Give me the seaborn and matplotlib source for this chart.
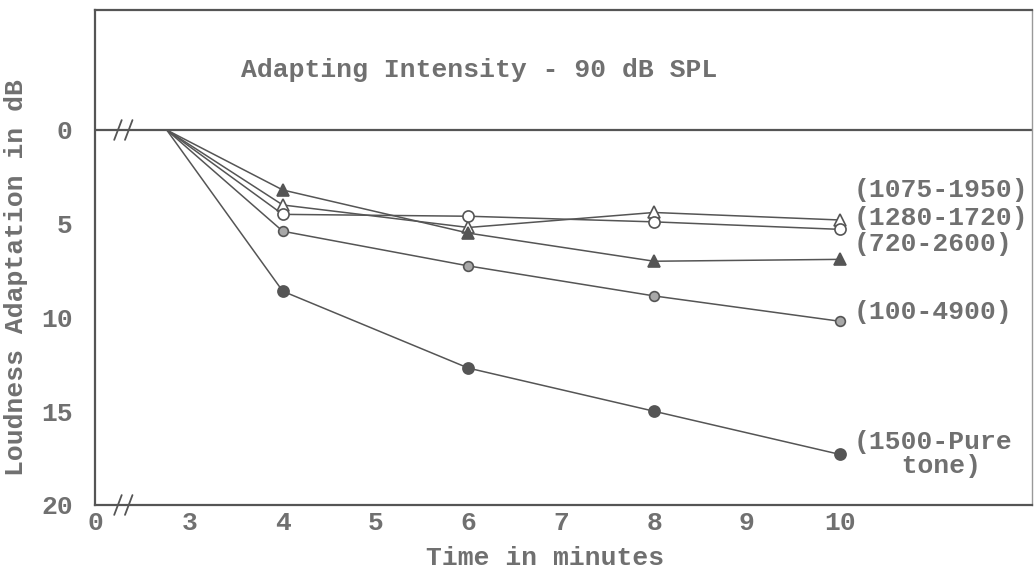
import matplotlib
matplotlib.use('Agg')
import matplotlib.pyplot as plt
import pandas as pd
import seaborn as sns

# values (loudness adaptation in dB)
times = [2.75, 4, 6, 8, 10]
adapt_1075_1950 = [0, 4.0, 5.2, 4.4, 4.8]
adapt_1280_1720 = [0, 4.5, 4.6, 4.9, 5.3]
adapt_720_2600 = [0, 3.2, 5.5, 7.0, 6.9]
adapt_100_4900 = [0, 5.4, 7.25, 8.85, 10.2]
adapt_1500_pure = [0, 8.6, 12.7, 15.0, 17.3]

series_labels = ['(1075-1950)', '(1280-1720)', '(720-2600)', '(100-4900)', '(1500-Pure\n   tone)']
label_y = [3.2, 4.7, 6.1, 9.7, 17.3]

x_ticks = [3, 4, 5, 6, 7, 8, 9, 10]
y_ticks = [0, 5, 10, 15, 20]

sns.set_style('white')
plt.rcParams['font.family'] = ['Liberation Mono', 'DejaVu Sans Mono']

ink = '#555555'
txt = '#707070'
fs = 19

fig = plt.figure(figsize=(10.36, 5.77), dpi=100)
ax = fig.add_axes([0.0917, 0.1248, 0.9043, 0.8579])

series = [adapt_1075_1950, adapt_1280_1720, adapt_720_2600, adapt_100_4900, adapt_1500_pure]
styles = [
    dict(marker='^', markerfacecolor='white', markersize=8),
    dict(marker='o', markerfacecolor='white', markersize=8),
    dict(marker='^', markerfacecolor=ink, markersize=8),
    dict(marker='o', markerfacecolor='#a8a8a8', markersize=7),
    dict(marker='o', markerfacecolor=ink, markersize=8),
]

for vals, st in zip(series, styles):
    df_s = pd.DataFrame({'time': times, 'adapt': vals})
    sns.lineplot(data=df_s, x='time', y='adapt', ax=ax, color=ink, linewidth=1.1,
                 markeredgecolor=ink, markeredgewidth=1.2, markevery=[1, 2, 3, 4], **st)

ax.axhline(0, color=ink, linewidth=1.6, zorder=1)

# axis limits: x axis is broken between 0 and 3
ax.set_xlim(1.977, 12.07)
ax.set_ylim(20, -6.4)

ax.set_xticks([1.977] + x_ticks)
ax.set_xticklabels(['0'] + [str(t) for t in x_ticks])
ax.set_yticks(y_ticks)
ax.set_yticklabels([str(t) for t in y_ticks])
ax.tick_params(axis='both', direction='in', length=5, width=1.2, color=ink,
               labelsize=fs, labelcolor=txt)
ax.tick_params(axis='y', pad=16)
ax.tick_params(axis='x', pad=4)
for lab in ax.get_xticklabels() + ax.get_yticklabels():
    lab.set_fontweight('bold')

for sp in ax.spines.values():
    sp.set_color(ink)
    sp.set_linewidth(1.6)
ax.spines['right'].set_linewidth(1.0)
ax.spines['right'].set_color('#999999')

ax.set_xlabel('Time in minutes', fontsize=fs, color=txt, fontweight='bold')
ax.set_ylabel('Loudness Adaptation in dB', fontsize=fs, color=txt, fontweight='bold')
ax.xaxis.set_label_coords(0.48, -0.083)
ax.yaxis.set_label_coords(-0.072, 0.46)

ax.text(6.12, -3.2, 'Adapting Intensity - 90 dB SPL', ha='center', va='center',
        fontsize=fs, color=txt, fontweight='bold')

for lab, yv in zip(series_labels, label_y):
    ax.text(10.15, yv, lab, ha='left', va='center', fontsize=fs, color=txt,
            fontweight='bold', linespacing=1.0, clip_on=False)

# break marks on the x axis and on the zero line
y0 = 20 / 26.4
for bx in (0.0245, 0.036):
    ax.plot([bx - 0.004, bx + 0.004], [-0.02, 0.02], transform=ax.transAxes,
            color=ink, linewidth=1.3, clip_on=False)
    ax.plot([bx - 0.004, bx + 0.004], [y0 - 0.02, y0 + 0.02], transform=ax.transAxes,
            color=ink, linewidth=1.3, clip_on=False)

fig.savefig('out.png', dpi=100)
